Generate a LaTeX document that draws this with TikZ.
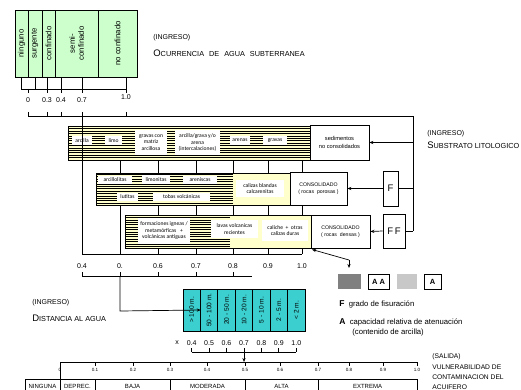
\documentclass[tikz,border=0pt]{standalone}
\usepackage{fontspec}
\setmainfont{Liberation Sans}
\newfontfamily\calfont{Carlito}
\usetikzlibrary{arrows.meta}
\definecolor{pgreen}{HTML}{CCFFCC}
\definecolor{pyellow}{HTML}{FFFFCC}
\definecolor{pcyan}{HTML}{3CCFCF}
\definecolor{dgray}{HTML}{808080}
\definecolor{lgray}{HTML}{C8C8C8}
\newcommand\fsz[2]{\fontsize{#1pt}{#2pt}\selectfont}
\newcommand\scap[2]{{\fsz{9.5}{9.5}#1}{\fsz{7.3}{7.3}#2}}
\newcommand\mystripes[4]{\begin{scope}\clip (#1,#2) rectangle (#3,#4);\foreach \yy in {100,102.4,...,262}{\draw[line width=0.95pt] (#1,\yy)--(#3,\yy);}\end{scope}}
\newcommand\ybox[4]{\fill[black] (#1+1.3,#2+1.3) rectangle (#3+1.3,#4+1.3);\fill[pyellow] (#1,#2) rectangle (#3,#4);}
\tikzset{
  gbox/.style={draw, fill=pgreen, rotate=90, inner sep=0pt, font=\fsz{7.8}{9}, align=center, line width=0.8pt},
  wl/.style={fill=white, inner sep=0pt, align=center, font=\calfont\fsz{5.6}{6.5}},
  tbox/.style={draw, fill=white, inner sep=0pt, align=center, font=\fsz{5.2}{7.5}, line width=0.7pt},
  dbox/.style={draw, fill=pcyan, rotate=90, inner sep=0pt, font=\fsz{6.6}{7}, minimum width=42pt, minimum height=17.43pt, line width=0.7pt},
  cat/.style={draw, inner sep=0pt, minimum height=14pt, font=\fsz{6}{6}},
  num/.style={inner sep=0pt, font=\fsz{7}{7}},
  tinynum/.style={inner sep=0pt, font=\fsz{4.6}{5}},
  arr/.style={-{Stealth[length=4pt,width=3.2pt]}},
  ttl/.style={anchor=west, inner sep=0pt, font=\fsz{7}{10}, align=left},
  fbox/.style={draw, fill=white, inner sep=0pt, font=\fsz{9.5}{9.5}, line width=0.8pt}
}
\begin{document}
\begin{tikzpicture}[x=1pt,y=-1pt,line width=0.7pt]
\useasboundingbox (0,0) rectangle (521,390);
% ---- ocurrencia (green) ----
\node[gbox, minimum width=67pt, minimum height=13pt] (g1) at (21.5,43.5) {ninguno};
\node[gbox, minimum width=67pt, minimum height=14pt] (g2) at (35,43.5) {surgente};
\node[gbox, minimum width=67pt, minimum height=13pt] (g3) at (48.5,43.5) {confinado};
\node[gbox, minimum width=67pt, minimum height=43pt] (g4) at (76.5,43.5) {semi-\\confinado};
\node[gbox, minimum width=67pt, minimum height=39pt] (g5) at (117.5,43.5) {no confinado};
\foreach \x in {21,35,47,61,82,126} \draw (\x,77) -- (\x,89);
\draw (21,89) -- (126,89);
\foreach \x in {28,47,61,82,126} \draw (\x,89) -- (\x,93);
\node[num] (o0) at (28,100) {0};
\node[num] (o3) at (47,100) {0.3};
\node[num] (o4) at (61,100) {0.4};
\node[num] (o7) at (82,100) {0.7};
\node[num] (o10) at (126,97) {1.0};
\foreach \x in {28,47,61,82,126} \draw (\x,112) -- (\x,116);
\draw (28,116) -- (413,116) -- (413,231);
\node[ttl] (t1a) at (153,38) {(INGRESO)};
\node[ttl] (t1b) at (153,53) {\scap{O}{CURRENCIA\hspace{5pt}DE\hspace{5pt}AGUA\hspace{5pt}SUBTERRANEA}};
% ---- substrato: sedimentos ----
\ybox{68}{126}{310}{160}
\mystripes{68}{126}{310}{160}
\draw (68,126) rectangle (310,160);
\node[wl, minimum width=20pt, minimum height=9pt] (s1) at (82,140.5) {arcilla};
\node[wl, minimum width=17pt, minimum height=9pt] (s2) at (113.5,140.5) {limo};
\node[wl, minimum width=32pt, minimum height=25pt] (s3) at (151,142.5) {gravas con\\matriz\\arcillosa};
\node[wl, minimum width=45pt, minimum height=25pt] (s4) at (197.5,142.5) {arcilla/grava y/o\\arena\\(intercalaciones)};
\node[wl, minimum width=20pt, minimum height=9pt] (s5) at (240,140.5) {arenas};
\node[wl, minimum width=24pt, minimum height=9pt] (s6) at (275,140.5) {gravas};
\node[tbox, minimum width=59pt, minimum height=35pt, font=\fsz{5.7}{8}] (sed) at (339.5,142.5) {sedimentos\\no consolidados};
\coordinate (r1) at (413,142.5);
\draw[arr] (r1) -- (sed.east);
\node[ttl] (t2a) at (427,134) {(INGRESO)};
\node[ttl] (t2b) at (427,145) {\scap{S}{UBSTRATO LITOLOGICO}};
% ---- rocas porosas ----
\ybox{96}{173}{290}{205}
\mystripes{96}{173}{233}{205}
\draw (96,173) rectangle (290,205);
\node[wl, minimum width=34pt, minimum height=8pt] (p1) at (115,180) {arcillolitas};
\node[wl, minimum width=28pt, minimum height=9pt] (p2) at (156,179.5) {limonitas};
\node[wl, minimum width=34pt, minimum height=8pt] (p3) at (200,180) {areniscas};
\node[wl, minimum width=21pt, minimum height=8pt] (p4) at (127.5,197) {lutitas};
\node[wl, minimum width=57pt, minimum height=8pt] (p5) at (181.5,197) {tobas volcánicas};
\node[wl, minimum width=48pt, minimum height=17pt] (p6) at (260,188.5) {calizas blandas\\calcarenitas};
\node[tbox, minimum width=57pt, minimum height=33pt] (cpor) at (318.5,188.5) {CONSOLIDADO\\( rocas\ \ porosas )};
\node[fbox, minimum width=15pt, minimum height=35pt] (F) at (390.5,188.5) {F};
\coordinate (r2) at (413,188.5);
\draw (F.east) -- (r2);
\draw[arr] (F.west) -- (cpor.east);
% ---- rocas densas ----
\ybox{125}{215}{311}{248}
\mystripes{125}{215}{230}{248}
\draw (125,215) rectangle (311,248);
\node[wl, minimum width=52pt, minimum height=26pt] (q1) at (164,231) {formaciones igneas /\\metamórficas\ \ \ +\\volcánicas antiguas};
\node[wl, minimum width=47pt, minimum height=18pt] (q2) at (234.5,229) {lavas volcanicas\\recientes};
\node[wl, minimum width=46pt, minimum height=21pt] (q3) at (285,230.5) {caliche\ \ +\ \ otras\\calizas duras};
\node[tbox, minimum width=59pt, minimum height=33pt] (cden) at (340.5,231.5) {CONSOLIDADO\\( rocas\ \ densas )};
\node[fbox, minimum width=22pt, minimum height=34pt] (FF) at (394,231) {F\,F};
\coordinate (r3) at (413,231);
\draw (FF.east) -- (r3);
\draw[arr] (FF.west) -- (cden.east);
% ---- connectors between groups ----
\foreach \x in {120,158,196,233,268,302} \draw (\x,161) -- (\x,173);
\foreach \x in {158,196,233,268,302} \draw (\x,206) -- (\x,215);
\foreach \x in {158,196,233,268,302} \draw (\x,249) -- (\x,254);
\draw (120,206) -- (120,254);
\draw (82,116) -- (82,254);
\draw (82,254) -- (302,254);
\node[num] (m4) at (82,266) {0.4};
\node[num] (m5) at (120,266) {0.};
\node[num] (m6) at (158,266) {0.6};
\node[num] (m7) at (196,266) {0.7};
\node[num] (m8) at (233,266) {0.8};
\node[num] (m9) at (268,266) {0.9};
\node[num] (m10) at (302,266) {1.0};
\foreach \x in {82,120,158,196,233} \draw (\x,272) -- (\x,276);
\draw (82,276) -- (252,276);
% ---- legend ----
\coordinate (cA) at (312,249.5);
\coordinate (cB) at (349,260);
\coordinate (cC) at (349,268);
\draw[arr] (cB) -- (cA);
\draw[arr] (cB) -- (cC);
\node[fill=dgray, minimum width=23pt, minimum height=15pt, inner sep=0pt] (L1) at (349.5,281.5) {};
\node[draw, minimum width=21pt, minimum height=15pt, inner sep=0pt, font=\bfseries\fsz{7.5}{7.5}] (L2) at (378.5,281.5) {A A};
\node[fill=lgray, minimum width=20pt, minimum height=15pt, inner sep=0pt] (L3) at (407,281.5) {};
\node[draw, minimum width=17pt, minimum height=15pt, inner sep=0pt, font=\bfseries\fsz{7.5}{7.5}] (L4) at (432.5,281.5) {A};
\node[ttl, font=\fsz{7.7}{8}] (k1) at (339,304) {{\bfseries\fsz{8.5}{8.5}F}\ \ grado de fisuración};
\node[ttl, font=\fsz{7.7}{8}] (k2) at (339,322) {{\bfseries\fsz{8.5}{8.5}A}\ \ capacidad relativa de atenuación};
\node[ttl, font=\fsz{7.7}{8}] (k3) at (352,333) {(contenido de arcilla)};
% ---- distancia ----
\node[ttl] (t3a) at (32,303) {(INGRESO)};
\node[ttl] (t3b) at (32,318) {\scap{D}{ISTANCIA AL AGUA}};
\node[dbox] (d1) at (191.7,310) {> 100 m.};
\node[dbox] (d2) at (209.1,310) {50 - 100 m.};
\node[dbox] (d3) at (226.5,310) {20 - 50 m.};
\node[dbox] (d4) at (244.0,310) {10 - 20 m.};
\node[dbox] (d5) at (261.4,310) {5 - 10 m.};
\node[dbox] (d6) at (278.8,310) {2 - 5 m.};
\node[dbox] (d7) at (296.3,310) {< 2 m.};
\coordinate (b0) at (120,276);
\coordinate (b1) at (120,311);
\draw[arr] (b0) -- (b1) -- (d1.south);
\node[num] (x0) at (177,343) {x};
\node[num] (x4) at (191.7,343) {0.4};
\node[num] (x5) at (209.1,343) {0.5};
\node[num] (x6) at (226.5,343) {0.6};
\node[num] (x7) at (244.0,343) {0.7};
\node[num] (x8) at (261.4,343) {0.8};
\node[num] (x9) at (278.8,343) {0.9};
\node[num] (x10) at (296.3,343) {1.0};
\foreach \x in {191.7,209.1,226.5,244.0,261.4,278.8,296.3} \draw (\x,348) -- (\x,352);
\draw (191.7,352) -- (296.3,352);
\coordinate (v0) at (244,352);
\coordinate (v1) at (244,362);
\draw[arr] (v0) -- (v1);
% ---- salida ----
\draw (60,362) -- (417,362);
\foreach \x/\l in {60/0,95/0.1,133/0.2,170/0.3,207/0.4,245/0.5,280/0.6,318/0.7,349/0.8,383/0.9,417/1.0}{
  \draw (\x,362) -- (\x,366);
  \node[tinynum] at (\x,369.5) {\l};
}
\draw (60,362) -- (60,379);
\node[cat, minimum width=35pt] (c1) at (42.5,386) {NINGUNA};
\node[cat, minimum width=35pt] (c2) at (77.5,386) {DEPREC.};
\node[cat, minimum width=75pt] (c3) at (132.5,386) {BAJA};
\node[cat, minimum width=75pt] (c4) at (207.5,386) {MODERADA};
\node[cat, minimum width=73pt] (c5) at (281.5,386) {ALTA};
\node[cat, minimum width=99pt] (c6) at (367.5,386) {EXTREMA};
\node[ttl, font=\fsz{6.7}{10.3}] (t4) at (432,372) {(SALIDA)\\VULNERABILIDAD DE\\CONTAMINACION DEL\\ACUIFERO};
\end{tikzpicture}
\end{document}
